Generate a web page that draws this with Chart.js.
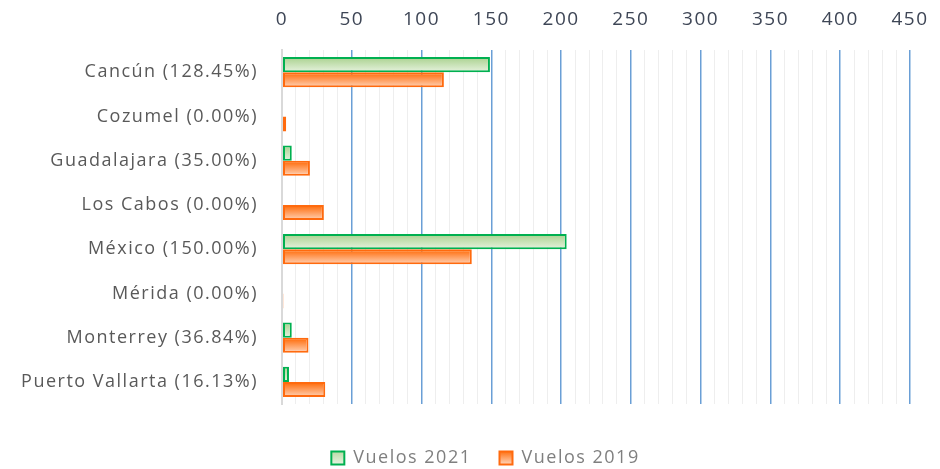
<!DOCTYPE html>
<html>
<head>
<meta charset="utf-8">
<script src="https://cdn.jsdelivr.net/npm/chart.js@4/dist/chart.umd.min.js"></script>
<style>
  body { margin: 0; background: #fff; }
  #wrap { width: 940px; height: 469px; }
</style>
</head>
<body>
<div id="wrap"><canvas id="vuelos"></canvas></div>
<script>
const destinos = ['Cancún (128.45%)', 'Cozumel (0.00%)', 'Guadalajara (35.00%)', 'Los Cabos (0.00%)',
    'México (150.00%)', 'Mérida (0.00%)', 'Monterrey (36.84%)', 'Puerto Vallarta (16.13%)'];
const vuelos2021 = [149, 0, 7, 0, 204, 0, 7, 5];
const vuelos2019 = [116, 3, 20, 30, 136, 1, 19, 31];

const fuente = '"Open Sans", sans-serif';

// degradado vertical para cada barra, calculado desde la escala de categorias
const degradado = (ctx, arriba, abajo, fila) => {
    const chart = ctx.chart;
    const yEje = chart.scales.y;
    if (!chart.chartArea || !yEje) return arriba;
    const alto = (yEje.bottom - yEje.top) / destinos.length;
    const barra = alto * 0.68 / 2;
    const centro = yEje.getPixelForValue(ctx.dataIndex);
    const y0 = centro - barra + fila * barra;
    const g = chart.ctx.createLinearGradient(0, y0, 0, y0 + barra);
    g.addColorStop(0, arriba);
    g.addColorStop(1, abajo);
    return g;
};

// espaciado de letras parecido al de Calibri en la imagen original
const espaciado = {
    id: 'espaciado',
    beforeInit(chart) { chart.ctx.letterSpacing = '1.5px'; },
    beforeDraw(chart) { chart.ctx.letterSpacing = '1.5px'; }
};

const ajusteLeyenda = {
    id: 'ajusteLeyenda',
    afterLayout(chart) {
        chart.legend.top += 17;
        chart.legend.bottom += 17;
        chart.legend.left += 14;
        chart.legend.right += 14;
    }
};

const grafica = new Chart(document.getElementById('vuelos').getContext('2d'), {
    type: 'bar',
    data: {
        labels: destinos,
        datasets: [{
            label: 'Vuelos 2021',
            data: vuelos2021,
            backgroundColor: ctx => degradado(ctx, '#a9d18e', '#e6f2de', 0),
            borderColor: '#00b050',
            borderWidth: 2,
            borderSkipped: false,
            categoryPercentage: 0.68,
            barPercentage: 1
        }, {
            label: 'Vuelos 2019',
            data: vuelos2019,
            backgroundColor: ctx => degradado(ctx, '#ff6600', '#ffd2b6', 1),
            borderColor: '#ff6a0e',
            borderWidth: 2,
            borderSkipped: false,
            categoryPercentage: 0.68,
            barPercentage: 1
        }]
    },
    options: {
        indexAxis: 'y',
        responsive: true,
        maintainAspectRatio: false,
        animation: false,
        layout: { padding: { top: 0, right: 30, bottom: 9, left: 0 } },
        scales: {
            x: {
                position: 'top',
                min: 0,
                max: 450,
                afterFit: s => { s.height = 50; s.paddingLeft = 0; s.paddingRight = 0; },
                ticks: {
                    stepSize: 10,
                    autoSkip: false,
                    maxRotation: 0,
                    padding: 19,
                    color: '#3e4656',
                    font: { family: fuente, size: 19 },
                    callback: v => v % 50 === 0 ? v : ''
                },
                grid: {
                    drawTicks: false,
                    color: c => c.tick.value === 0 ? '#d9d9d9' : (c.tick.value % 50 === 0 ? '#6a9fd6' : '#eeeeee'),
                    lineWidth: c => c.tick.value === 0 ? 2 : (c.tick.value % 50 === 0 ? 1.5 : 1)
                },
                border: { display: false }
            },
            y: {
                afterFit: s => { s.width = 282; },
                ticks: {
                    padding: 24,
                    color: '#595959',
                    font: { family: fuente, size: 18 }
                },
                grid: { display: false, drawTicks: false },
                border: { color: '#d9d9d9', width: 2 }
            }
        },
        plugins: {
            legend: {
                position: 'bottom',
                labels: {
                    boxWidth: 13,
                    boxHeight: 13,
                    padding: 28,
                    color: '#7f7f7f',
                    font: { family: fuente, size: 18 },
                    generateLabels: chart => {
                        const c = chart.ctx;
                        const colores = [['#b5d89f', '#e6f2de', '#00b050'], ['#ff6600', '#ffd2b6', '#ff6a0e']];
                        return chart.data.datasets.map((d, i) => {
                            const g = c.createLinearGradient(0, 450, 0, 464);
                            g.addColorStop(0, colores[i][0]);
                            g.addColorStop(1, colores[i][1]);
                            return {
                                text: d.label,
                                fillStyle: g,
                                strokeStyle: colores[i][2],
                                lineWidth: 2,
                                fontColor: '#7f7f7f',
                                datasetIndex: i,
                                hidden: false
                            };
                        });
                    }
                }
            },
            tooltip: { enabled: false }
        }
    },
    plugins: [espaciado, ajusteLeyenda]
});
</script>
</body>
</html>
